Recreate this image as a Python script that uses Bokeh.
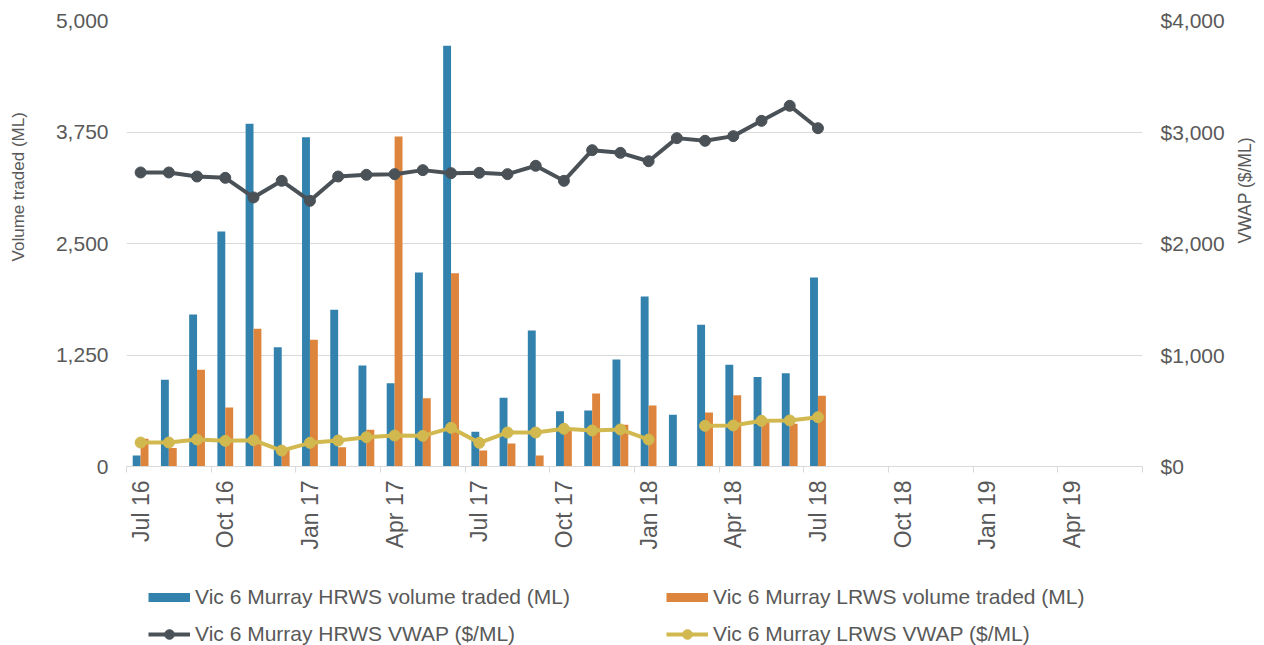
import math
from bokeh.plotting import figure
from bokeh.layouts import column
from bokeh.models import (ColumnDataSource, Range1d, LinearAxis, FixedTicker,
                          NumeralTickFormatter, Legend, LegendItem)
from bokeh.transform import dodge
from bokeh.embed import file_html
from bokeh.resources import INLINE

# ---------------- data ----------------
months = ["Jul 16", "Aug 16", "Sep 16", "Oct 16", "Nov 16", "Dec 16",
          "Jan 17", "Feb 17", "Mar 17", "Apr 17", "May 17", "Jun 17",
          "Jul 17", "Aug 17", "Sep 17", "Oct 17", "Nov 17", "Dec 17",
          "Jan 18", "Feb 18", "Mar 18", "Apr 18", "May 18", "Jun 18",
          "Jul 18", "Aug 18", "Sep 18", "Oct 18", "Nov 18", "Dec 18",
          "Jan 19", "Feb 19", "Mar 19", "Apr 19", "May 19", "Jun 19"]
tick_labels = ["Jul 16", "Oct 16", "Jan 17", "Apr 17", "Jul 17", "Oct 17",
               "Jan 18", "Apr 18", "Jul 18", "Oct 18", "Jan 19", "Apr 19"]

hrws_volume = [123, 972, 1704, 2635, 3842, 1338, 3692, 1756, 1132, 934, 2175, 4716,
               389, 770, 1525, 620, 628, 1200, 1906, 579, 1588, 1140, 1002, 1046, 2119]
lrws_volume = [310, 206, 1084, 661, 1543, 190, 1420, 217, 411, 3700, 766, 2167,
               179, 258, 123, 420, 818, 467, 684, 0, 605, 800, 497, 478, 792]
hrws_vwap = [2637, 2637, 2601, 2589, 2413, 2562, 2383, 2601, 2616, 2622, 2658, 2631,
             2634, 2622, 2697, 2562, 2837, 2813, 2738, 2945, 2921, 2963, 3100, 3235, 3034]
lrws_vwap = [215, 215, 242, 230, 236, 143, 212, 233, 263, 278, 275, 347,
             212, 305, 305, 338, 323, 332, 242, float("nan"), 365, 368, 410, 413, 442]

volume_ticks = [0, 1250, 2500, 3750, 5000]
vwap_ticks = [0, 1000, 2000, 3000, 4000]

legend_labels = ["Vic 6 Murray HRWS volume traded (ML)",
                 "Vic 6 Murray HRWS VWAP ($/ML)",
                 "Vic 6 Murray LRWS volume traded (ML)",
                 "Vic 6 Murray LRWS VWAP ($/ML)"]

# ---------------- styles ----------------
BLUE = "#3282ad"
ORANGE = "#dd843d"
DARK = "#4a5258"
YELLOW = "#d1b950"
GRID = "#d9d9d9"
TXT = "#595959"
FONT = "Liberation Sans"
NBSP = "\u00a0"

n = len(hrws_volume)
src = ColumnDataSource(dict(x=list(range(n)), hv=hrws_volume, lv=lrws_volume,
                            hp=hrws_vwap, lp=lrws_vwap))

p = figure(frame_width=1016, frame_height=446,
           min_border_left=126, min_border_right=116,
           min_border_top=20, min_border_bottom=109,
           x_range=Range1d(-0.5, len(months) - 0.5),
           y_range=Range1d(0, 5000),
           output_backend="svg", toolbar_location=None,
           background_fill_color="white", border_fill_color="white")
p.outline_line_color = None
p.extra_y_ranges = {"vwap": Range1d(0, 4000)}

# bars
r_hv = p.vbar(x=dodge("x", -0.14), top="hv", width=0.28, source=src,
              fill_color=BLUE, line_color=None)
r_lv = p.vbar(x=dodge("x", 0.14), top="lv", width=0.28, source=src,
              fill_color=ORANGE, line_color=None)

# lines
r_hl = p.line("x", "hp", source=src, y_range_name="vwap", line_color=DARK, line_width=4)
r_hs = p.scatter("x", "hp", source=src, y_range_name="vwap", size=11,
                 fill_color=DARK, line_color=DARK)
r_ll = p.line("x", "lp", source=src, y_range_name="vwap", line_color=YELLOW, line_width=4)
r_ls = p.scatter("x", "lp", source=src, y_range_name="vwap", size=11,
                 fill_color=YELLOW, line_color=YELLOW)

# x axis
tick_pos = [months.index(t) for t in tick_labels]
boundaries = [i - 0.5 for i in range(0, len(months) + 1, 3)]
xa = p.xaxis[0]
xa.ticker = FixedTicker(ticks=tick_pos, minor_ticks=boundaries)
xa.major_label_overrides = {pos: lab for pos, lab in zip(tick_pos, tick_labels)}
xa.major_label_orientation = math.pi / 2
xa.major_label_text_font = FONT
xa.major_label_text_font_size = "23px"
xa.major_label_text_color = TXT
xa.major_label_standoff = 8
xa.major_tick_out = 0
xa.major_tick_in = 0
xa.minor_tick_out = 6
xa.minor_tick_in = 0
xa.minor_tick_line_color = GRID
xa.axis_line_color = GRID
xa.axis_line_width = 1
p.xgrid.grid_line_color = None

# left axis
ya = p.yaxis[0]
ya.ticker = FixedTicker(ticks=volume_ticks)
ya.formatter = NumeralTickFormatter(format="0,0")
ya.axis_label = NBSP * 24 + "Volume traded (ML)"
ya.axis_label_text_font = FONT
ya.axis_label_text_font_size = "17px"
ya.axis_label_text_font_style = "normal"
ya.axis_label_text_color = TXT
ya.axis_label_standoff = 25
ya.major_label_text_font = FONT
ya.major_label_text_font_size = "21px"
ya.major_label_text_color = TXT
ya.major_label_standoff = 18
ya.major_tick_out = 0
ya.major_tick_in = 0
ya.axis_line_color = None
ya.major_tick_line_color = None
ya.minor_tick_line_color = None
p.ygrid.grid_line_color = GRID
p.ygrid.grid_line_width = 1
p.ygrid.ticker = FixedTicker(ticks=volume_ticks)

# right axis
ra = LinearAxis(y_range_name="vwap", ticker=FixedTicker(ticks=vwap_ticks),
                formatter=NumeralTickFormatter(format="$0,0"),
                axis_label="VWAP ($/ML)")
ra.axis_label_orientation = math.pi / 2
ra.axis_label_text_font = FONT
ra.axis_label_text_font_size = "17.5px"
ra.axis_label_text_font_style = "normal"
ra.axis_label_text_color = TXT
ra.axis_label_standoff = 17
ra.major_label_text_font = FONT
ra.major_label_text_font_size = "21px"
ra.major_label_text_color = TXT
ra.major_label_standoff = 18
ra.major_tick_out = 0
ra.major_tick_in = 0
ra.axis_line_color = None
ra.major_tick_line_color = None
ra.minor_tick_line_color = None
p.add_layout(ra, "right")

# ---------------- legend strip (separate figure under the chart) ----------------
lf = figure(width=1258, height=70, x_range=Range1d(0, 1), y_range=Range1d(0, 1),
            x_axis_type=None, y_axis_type=None, min_border=0,
            output_backend="svg", toolbar_location=None,
            background_fill_color="white", border_fill_color="white")
lf.outline_line_color = None
lf.grid.grid_line_color = None
nan = float("nan")
proxy = ColumnDataSource(dict(x=[nan], y=[nan]))
sw_blue = lf.line("x", "y", source=proxy, line_color=BLUE, line_width=9)
sw_orange = lf.line("x", "y", source=proxy, line_color=ORANGE, line_width=9)
lg_hl = lf.line("x", "y", source=proxy, line_color=DARK, line_width=4)
lg_hs = lf.scatter("x", "y", source=proxy, size=11, fill_color=DARK, line_color=DARK)
lg_ll = lf.line("x", "y", source=proxy, line_color=YELLOW, line_width=4)
lg_ls = lf.scatter("x", "y", source=proxy, size=11, fill_color=YELLOW, line_color=YELLOW)

legend = Legend(items=[LegendItem(label=legend_labels[0], renderers=[sw_blue]),
                       LegendItem(label=legend_labels[1], renderers=[lg_hl, lg_hs]),
                       LegendItem(label=legend_labels[2], renderers=[sw_orange]),
                       LegendItem(label=legend_labels[3], renderers=[lg_ll, lg_ls])],
                orientation="vertical", nrows=2,
                location=(22, -1),
                glyph_width=42, glyph_height=24, label_height=20, label_width=458,
                label_standoff=5, padding=0, margin=0, spacing=13,
                label_text_font=FONT, label_text_font_size="21px",
                label_text_color=TXT, border_line_color=None,
                background_fill_alpha=0)
lf.add_layout(legend, "center")

open("out.html", "w").write(file_html(column(p, lf, spacing=0), INLINE))
